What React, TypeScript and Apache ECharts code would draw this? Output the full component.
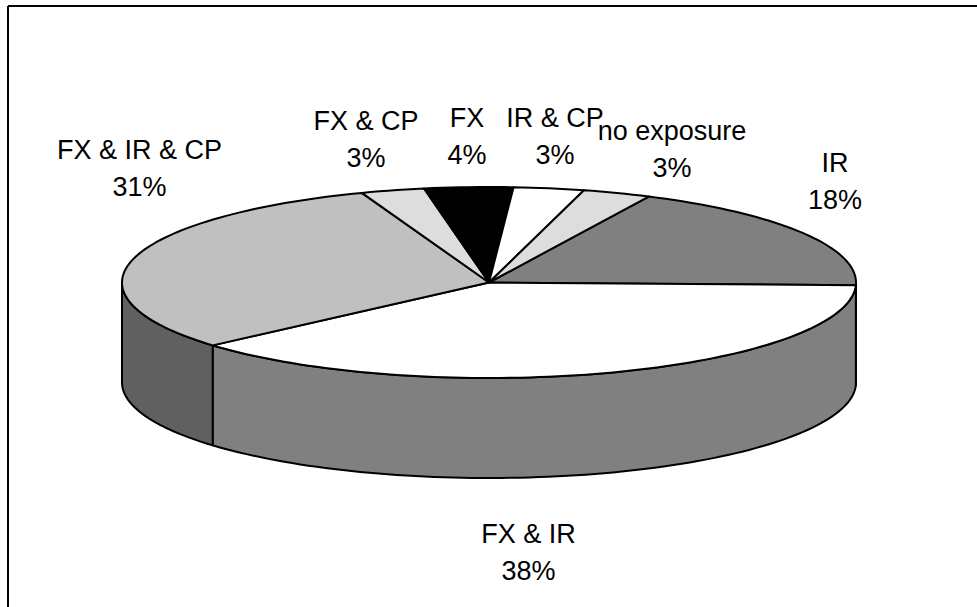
import React, { useEffect, useRef } from "react";
import * as echarts from "echarts";

const categories = ["IR", "FX & IR", "FX & IR & CP", "FX & CP", "FX", "IR & CP", "no exposure"];
const shares = [18.3, 38.1, 30.8, 2.8, 3.9, 3.1, 3.0];
const topColors = ["#808080", "#ffffff", "#c0c0c0", "#dddddd", "#000000", "#ffffff", "#dddddd"];
const sideColors = ["#808080", "#808080", "#606060", "#6e6e6e", "#000000", "#808080", "#6e6e6e"];
const labelCenters: number[][] = [
  [835, 163], [528.5, 534], [139.5, 150], [366, 121], [467, 118], [555, 118], [672, 131],
];

const CX = 489, CY = 282.5, RX = 367, RY = 95.5, DEPTH = 100, START = 25.8, LH = 36.5;
const FONT = "Liberation Sans, Arial, sans-serif";
const total = shares.reduce((a, b) => a + b, 0);
const startOf = (i: number) => START + (shares.slice(0, i).reduce((a, b) => a + b, 0) / total) * 360;
const pt = (deg: number, dy = 0) => {
  const r = (deg * Math.PI) / 180;
  return [CX + RX * Math.sin(r), CY - RY * Math.cos(r) + dy];
};
const arc = (a: number, b: number, dy = 0) => {
  const n = Math.max(2, Math.ceil(Math.abs(b - a) / 1.5));
  const out: number[][] = [];
  for (let k = 0; k <= n; k++) out.push(pt(a + ((b - a) * k) / n, dy));
  return out;
};
const line = { stroke: "#000", lineWidth: 2, lineJoin: "round" as const };

export default function App() {
  const ref = useRef<HTMLDivElement>(null);
  useEffect(() => {
    const chart = echarts.init(ref.current!, undefined, { renderer: "svg" });
    chart.setOption({
      animation: false,
      backgroundColor: "#fff",
      graphic: [
        { type: "line", silent: true, shape: { x1: 8, y1: 6, x2: 977, y2: 6 }, style: { stroke: "#000", lineWidth: 2 } },
        { type: "line", silent: true, shape: { x1: 8, y1: 6, x2: 8, y2: 607 }, style: { stroke: "#000", lineWidth: 2 } },
      ],
      series: [
        {
          type: "custom",
          coordinateSystem: "none",
          z: 1,
          silent: true,
          data: shares,
          renderItem: (p: any) => {
            const a = Math.max(startOf(p.dataIndex), 90);
            const b = Math.min(startOf(p.dataIndex + 1), 270);
            if (b <= a) return { type: "group", children: [] };
            const points = [...arc(a, b), ...arc(b, a, DEPTH)];
            return {
              type: "polygon",
              shape: { points },
              style: { fill: sideColors[p.dataIndex], ...line },
            };
          },
        },
        {
          type: "custom",
          coordinateSystem: "none",
          z: 2,
          silent: true,
          data: shares,
          renderItem: (p: any) => {
            const i = p.dataIndex;
            const points = [[CX, CY], ...arc(startOf(i), startOf(i + 1))];
            return {
              type: "polygon",
              shape: { points },
              style: { fill: topColors[i], ...line },
            };
          },
        },
        {
          type: "custom",
          coordinateSystem: "none",
          z: 3,
          silent: true,
          data: shares,
          renderItem: (p: any, api: any) => {
            const i = p.dataIndex;
            const [x, y] = labelCenters[i];
            const mk = (text: string, ty: number) => ({
              type: "text",
              style: { x, y: ty, text, fill: "#000", font: `27px ${FONT}`, textAlign: "center", textVerticalAlign: "middle" },
            });
            return {
              type: "group",
              children: [mk(categories[i], y), mk(`${Math.round(api.value(0))}%`, y + LH)],
            };
          },
        },
      ],
    });
    return () => chart.dispose();
  }, []);
  return <div ref={ref} style={{ position: "fixed", left: 0, top: 0, width: 977, height: 607 }} />;
}
